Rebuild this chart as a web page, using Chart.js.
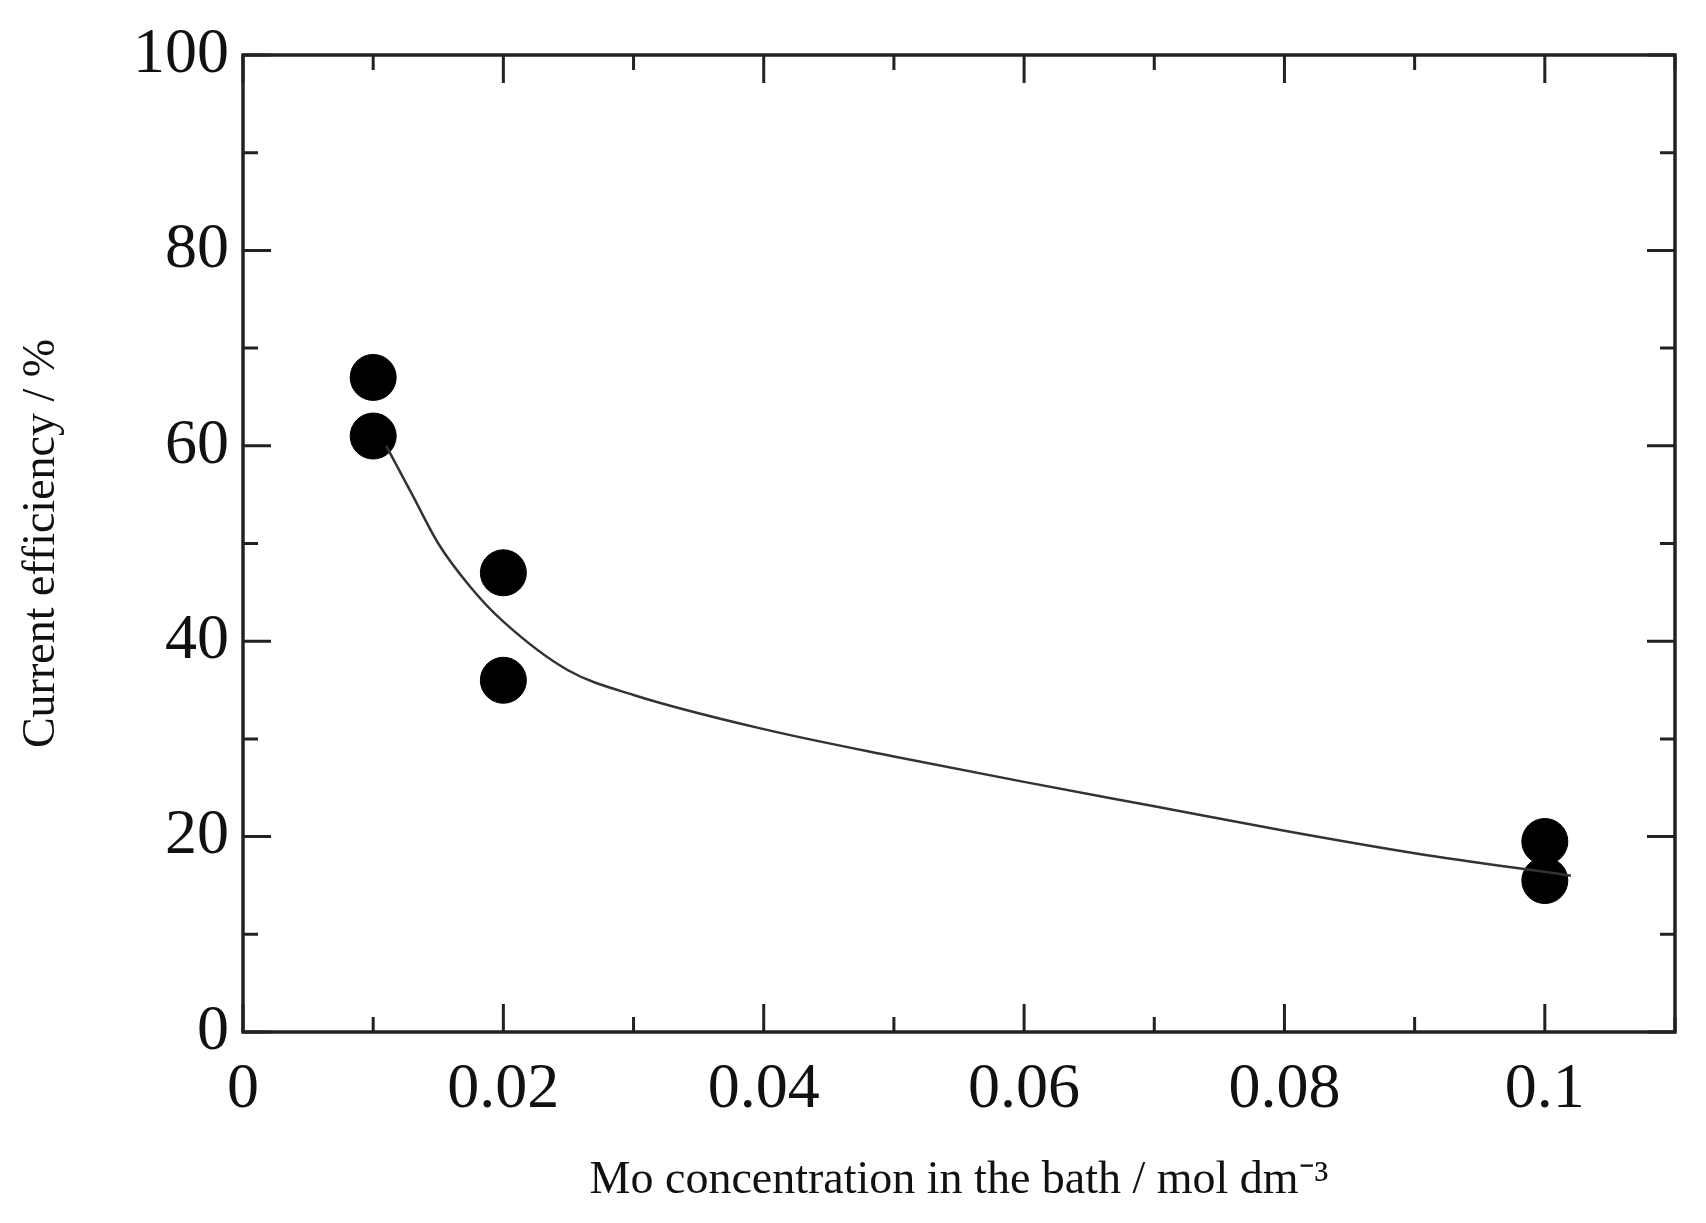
<!DOCTYPE html>
<html><head><meta charset="utf-8">
<script src="https://cdn.jsdelivr.net/npm/chart.js@4"></script>
<style>html,body{margin:0;background:#fff}#w{width:1706px;height:1223px}</style>
</head><body><div id="w"><canvas id="c"></canvas></div>
<script>
const pointX = [0.01, 0.01, 0.02, 0.02, 0.1, 0.1];
const pointY = [67, 61, 47, 36, 19.5, 15.5];
const curveX = [0.011, 0.013, 0.015, 0.0175, 0.02, 0.025, 0.03, 0.04, 0.05, 0.06, 0.07, 0.08, 0.09, 0.102];
const curveY = [60, 55, 50, 45.5, 42, 37, 34.5, 31, 28.2, 25.6, 23.1, 20.6, 18.3, 16];
const xLabelTicks = [0, 0.02, 0.04, 0.06, 0.08, 0.1];
const yLabelTicks = [0, 20, 40, 60, 80, 100];
const xTitle = 'Mo concentration in the bath / mol dm\u207B\u00B3';
const yTitle = 'Current efficiency / %';

const font = 'Liberation Serif';
const inwardTicks = {
  id: 'inwardTicks',
  afterDraw(ch) {
    const {ctx, chartArea: a, scales: {x, y}} = ch;
    ctx.save(); ctx.strokeStyle = '#222'; ctx.lineWidth = 3;
    for (let i = 0; i <= 11; i++) {
      const v = i / 100, px = x.getPixelForValue(v);
      const L = xLabelTicks.some(t => Math.abs(t - v) < 1e-9) ? 28 : 15;
      ctx.beginPath(); ctx.moveTo(px, a.bottom); ctx.lineTo(px, a.bottom - L);
      ctx.moveTo(px, a.top); ctx.lineTo(px, a.top + L); ctx.stroke();
    }
    for (let v = 0; v <= 100; v += 10) {
      const py = y.getPixelForValue(v);
      const L = yLabelTicks.includes(v) ? 28 : 15;
      ctx.beginPath(); ctx.moveTo(a.left, py); ctx.lineTo(a.left + L, py);
      ctx.moveTo(a.right, py); ctx.lineTo(a.right - L, py); ctx.stroke();
    }
    ctx.lineWidth = 3.5; ctx.strokeRect(a.left, a.top, a.right - a.left, a.bottom - a.top);
    ctx.restore();
  }
};

new Chart(document.getElementById('c'), {
  type: 'scatter',
  data: { datasets: [
    { data: curveX.map((v, i) => ({x: v, y: curveY[i]})), showLine: true, pointRadius: 0,
      borderColor: '#333', borderWidth: 2.5, tension: 0.4, cubicInterpolationMode: 'monotone' },
    { data: pointX.map((v, i) => ({x: v, y: pointY[i]})), pointRadius: 23,
      backgroundColor: '#000', borderColor: '#000' }
  ]},
  options: {
    responsive: true, maintainAspectRatio: false, animation: false,
    layout: { padding: { left: 10, right: 31, top: 55, bottom: 10 } },
    plugins: { legend: { display: false }, tooltip: { enabled: false } },
    scales: {
      x: { type: 'linear', min: 0, max: 0.11,
        afterFit(s) { s.height = 181; },
        afterBuildTicks(s) { s.ticks = xLabelTicks.map(v => ({value: v})); },
        grid: { display: false }, border: { display: false },
        ticks: { color: '#111', font: { family: font, size: 64 }, padding: 12,
          callback: v => String(Math.round(v * 100) / 100), maxRotation: 0 },
        title: { display: true, text: xTitle, color: '#111', font: { family: font, size: 46 }, padding: { top: 8 } } },
      y: { min: 0, max: 100,
        afterFit(s) { s.width = 233; },
        afterBuildTicks(s) { s.ticks = yLabelTicks.map(v => ({value: v})); },
        grid: { display: false }, border: { display: false },
        ticks: { color: '#111', font: { family: font, size: 64 }, padding: 6 },
        title: { display: true, text: yTitle, color: '#111', font: { family: font, size: 46 }, padding: { bottom: 20 } } }
    }
  },
  plugins: [inwardTicks]
});
</script></body></html>
